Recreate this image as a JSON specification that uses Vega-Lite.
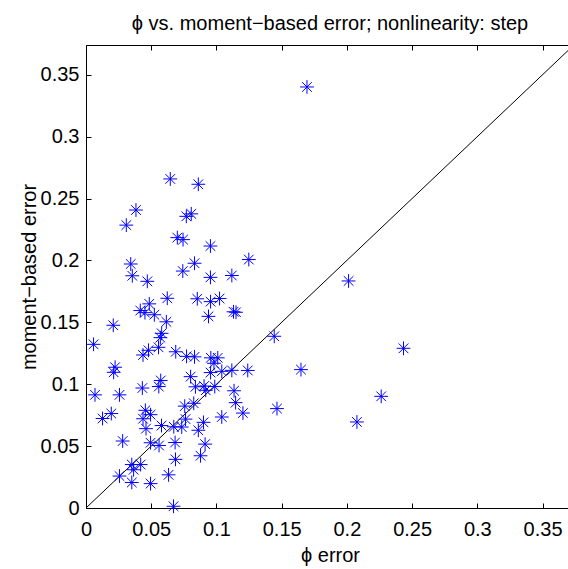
{
  "$schema": "https://vega.github.io/schema/vega-lite/v6.json",
  "width": 482,
  "height": 463,
  "autosize": {"type": "none"},
  "padding": {"left": 86, "top": 45, "right": 0, "bottom": 61},
  "background": "white",
  "config": {"view": {"stroke": null}, "font": "Liberation Sans"},
  "title": {"text": "ϕ vs. moment−based error; nonlinearity: step", "fontSize": 20, "fontWeight": "normal", "font": "Liberation Sans", "color": "black", "anchor": "middle", "baseline": "alphabetic", "offset": -5, "dx": 3},
  "datasets": {
    "diag": [{"x": 0, "y": 0}, {"x": 0.374, "y": 0.374}],
    "points": [
      {"x": 0.1694, "y": 0.3401}, {"x": 0.0646, "y": 0.2658}, {"x": 0.0861, "y": 0.2615}, {"x": 0.0383, "y": 0.2407},
      {"x": 0.0309, "y": 0.2285}, {"x": 0.0769, "y": 0.2356}, {"x": 0.0807, "y": 0.2376}, {"x": 0.0700, "y": 0.2184},
      {"x": 0.0744, "y": 0.2168}, {"x": 0.0954, "y": 0.2116}, {"x": 0.1248, "y": 0.2007}, {"x": 0.0343, "y": 0.1971},
      {"x": 0.0832, "y": 0.1977}, {"x": 0.0355, "y": 0.1876}, {"x": 0.0742, "y": 0.1914}, {"x": 0.0954, "y": 0.1863},
      {"x": 0.1118, "y": 0.1878}, {"x": 0.0470, "y": 0.1831}, {"x": 0.0623, "y": 0.1694}, {"x": 0.0853, "y": 0.1690},
      {"x": 0.0955, "y": 0.1667}, {"x": 0.1024, "y": 0.1692}, {"x": 0.0416, "y": 0.1595}, {"x": 0.0485, "y": 0.1649},
      {"x": 0.0452, "y": 0.1578}, {"x": 0.0524, "y": 0.1561}, {"x": 0.0616, "y": 0.1504}, {"x": 0.0939, "y": 0.1548},
      {"x": 0.1131, "y": 0.1585}, {"x": 0.1150, "y": 0.1581}, {"x": 0.0209, "y": 0.1476}, {"x": 0.0580, "y": 0.1411},
      {"x": 0.0570, "y": 0.1376}, {"x": 0.0058, "y": 0.1322}, {"x": 0.0556, "y": 0.1298}, {"x": 0.0479, "y": 0.1274},
      {"x": 0.0437, "y": 0.1236}, {"x": 0.0688, "y": 0.1262}, {"x": 0.0771, "y": 0.1225}, {"x": 0.0832, "y": 0.1221},
      {"x": 0.0957, "y": 0.1213}, {"x": 0.1010, "y": 0.1213}, {"x": 0.0981, "y": 0.1169}, {"x": 0.0223, "y": 0.1137},
      {"x": 0.0212, "y": 0.1096}, {"x": 0.0802, "y": 0.1061}, {"x": 0.0955, "y": 0.1094}, {"x": 0.1041, "y": 0.1104},
      {"x": 0.1118, "y": 0.1112}, {"x": 0.1240, "y": 0.1111}, {"x": 0.1443, "y": 0.1387}, {"x": 0.1648, "y": 0.1118},
      {"x": 0.2013, "y": 0.1834}, {"x": 0.2434, "y": 0.1290}, {"x": 0.0069, "y": 0.0914}, {"x": 0.0257, "y": 0.0914},
      {"x": 0.0432, "y": 0.0969}, {"x": 0.0573, "y": 0.1030}, {"x": 0.0558, "y": 0.0981}, {"x": 0.0839, "y": 0.0979},
      {"x": 0.0905, "y": 0.0985}, {"x": 0.0918, "y": 0.0951}, {"x": 0.0987, "y": 0.0981}, {"x": 0.1135, "y": 0.0947},
      {"x": 0.1147, "y": 0.0851}, {"x": 0.1203, "y": 0.0767}, {"x": 0.0757, "y": 0.0823}, {"x": 0.0826, "y": 0.0846},
      {"x": 0.1041, "y": 0.0735}, {"x": 0.0127, "y": 0.0723}, {"x": 0.0194, "y": 0.0763}, {"x": 0.0455, "y": 0.0789},
      {"x": 0.0437, "y": 0.0721}, {"x": 0.0495, "y": 0.0754}, {"x": 0.0460, "y": 0.0641}, {"x": 0.0579, "y": 0.0666},
      {"x": 0.0673, "y": 0.0656}, {"x": 0.0734, "y": 0.0654}, {"x": 0.0763, "y": 0.0718}, {"x": 0.0861, "y": 0.0628},
      {"x": 0.0901, "y": 0.0692}, {"x": 0.0281, "y": 0.0541}, {"x": 0.0495, "y": 0.0527}, {"x": 0.0560, "y": 0.0505},
      {"x": 0.0683, "y": 0.0529}, {"x": 0.0913, "y": 0.0516}, {"x": 0.0686, "y": 0.0393}, {"x": 0.0878, "y": 0.0422},
      {"x": 0.0351, "y": 0.0351}, {"x": 0.0365, "y": 0.0309}, {"x": 0.0419, "y": 0.0351}, {"x": 0.0257, "y": 0.0258},
      {"x": 0.0351, "y": 0.0206}, {"x": 0.0495, "y": 0.0197}, {"x": 0.0633, "y": 0.0268}, {"x": 0.0671, "y": 0.0014},
      {"x": 0.1464, "y": 0.0803}, {"x": 0.2263, "y": 0.0902}, {"x": 0.2077, "y": 0.0695}
    ]
  },
  "layer": [
    {
      "data": {"name": "diag"},
      "mark": {"type": "line", "color": "black", "strokeWidth": 1, "clip": true},
      "encoding": {
        "x": {"field": "x", "type": "quantitative", "scale": {"domain": [0, 0.3695], "nice": false, "zero": false},
          "axis": {"orient": "bottom", "values": [0, 0.05, 0.1, 0.15, 0.2, 0.25, 0.3, 0.35], "format": ".2~f", "tickSize": -5, "tickWidth": 1, "tickColor": "black", "domainColor": "black", "domainWidth": 1, "grid": false, "labelPadding": 16, "labelFontSize": 20, "labelFont": "Liberation Sans", "labelColor": "black", "labelFlush": false, "labelOverlap": false, "labelBound": false,
            "title": "ϕ error", "titleFontSize": 20, "titleFont": "Liberation Sans", "titleFontWeight": "normal", "titleColor": "black", "titleX": 244, "titleY": 53, "titleBaseline": "alphabetic", "titleAlign": "center"}},
        "y": {"field": "y", "type": "quantitative", "scale": {"domain": [0, 0.374], "nice": false, "zero": false},
          "axis": {"orient": "left", "values": [0, 0.05, 0.1, 0.15, 0.2, 0.25, 0.3, 0.35], "format": ".2~f", "tickSize": -5, "tickWidth": 1, "tickColor": "black", "domainColor": "black", "domainWidth": 1, "grid": false, "labelPadding": 12, "labelFontSize": 20, "labelFont": "Liberation Sans", "labelColor": "black", "labelFlush": false, "labelOverlap": false, "labelBound": false,
            "title": "moment−based error", "titleFontSize": 20, "titleFont": "Liberation Sans", "titleFontWeight": "normal", "titleColor": "black", "titleX": -51, "titleY": 231.5, "titleAngle": -90, "titleBaseline": "alphabetic", "titleAlign": "center"}}
      }
    },
    {
      "data": {"name": "points"},
      "mark": {"type": "point", "shape": "M0,-1L0,1M-1,0L1,0M-0.7,-0.7L0.7,0.7M-0.7,0.7L0.7,-0.7", "filled": false, "color": "#0000ff", "size": 190, "strokeWidth": 1, "opacity": 1},
      "encoding": {
        "x": {"field": "x", "type": "quantitative",
          "axis": {"orient": "top", "values": [0, 0.05, 0.1, 0.15, 0.2, 0.25, 0.3, 0.35], "labels": false, "title": null, "tickSize": -5, "tickWidth": 1, "tickColor": "black", "domainColor": "black", "domainWidth": 1, "grid": false}},
        "y": {"field": "y", "type": "quantitative", "axis": null}
      }
    }
  ],
  "resolve": {"axis": {"x": "independent", "y": "independent"}}
}
